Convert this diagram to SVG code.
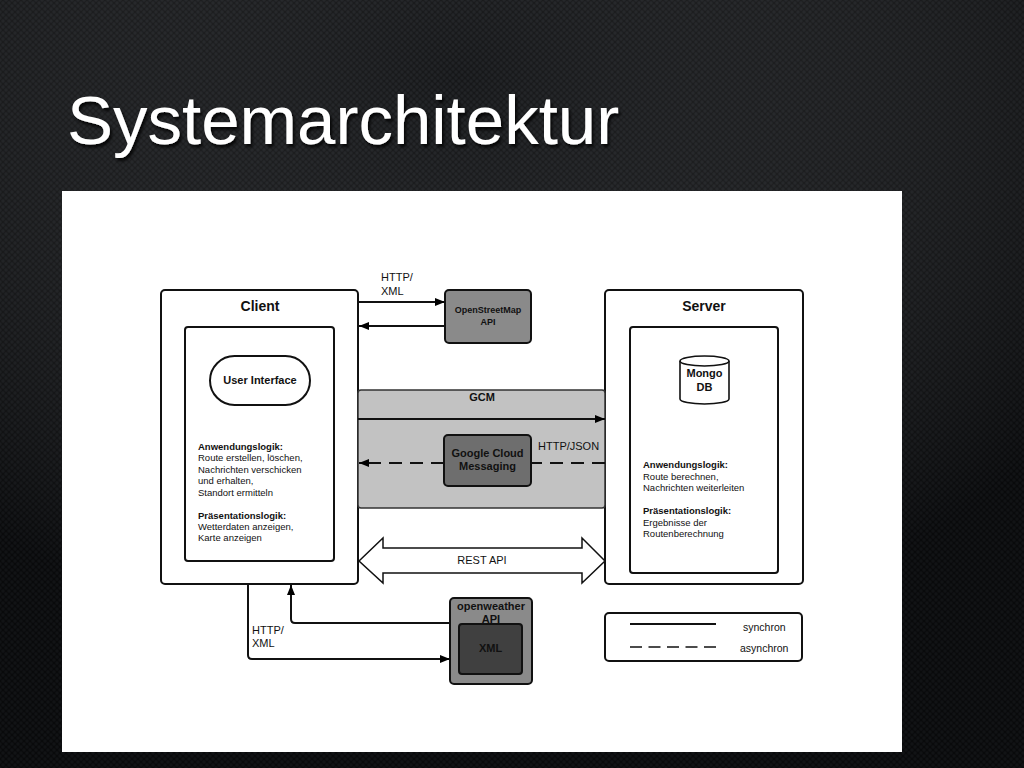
<svg xmlns="http://www.w3.org/2000/svg" width="1024" height="768" viewBox="0 0 1024 768">
<defs>
<pattern id="tex" width="6" height="6" patternUnits="userSpaceOnUse">
<rect width="6" height="6" fill="#0c0d0f"/>
<circle cx="3" cy="3" r="1.7" fill="#17191c"/>
<circle cx="0" cy="0" r="1.7" fill="#17191c"/>
<circle cx="6" cy="0" r="1.7" fill="#17191c"/>
<circle cx="0" cy="6" r="1.7" fill="#17191c"/>
<circle cx="6" cy="6" r="1.7" fill="#17191c"/>
</pattern>
<radialGradient id="glow" cx="0.45" cy="0.1" r="0.75">
<stop offset="0" stop-color="#ffffff" stop-opacity="0.04"/>
<stop offset="1" stop-color="#000000" stop-opacity="0.25"/>
</radialGradient>
<filter id="sh" x="-5%" y="-20%" width="110%" height="140%">
<feDropShadow dx="2" dy="3" stdDeviation="1.5" flood-color="#000" flood-opacity="0.8"/>
</filter>
<marker id="ah" viewBox="0 0 10 10" refX="10" refY="5" markerWidth="10" markerHeight="10" markerUnits="userSpaceOnUse" orient="auto">
<path d="M0,1 L10,5 L0,9 Z" fill="#000"/>
</marker>
</defs>
<style>
.box{fill:#fff;stroke:#111;stroke-width:2}
.ln{fill:none;stroke:#111;stroke-width:2}
.dash{fill:none;stroke:#111;stroke-width:2;stroke-dasharray:13 8}
.ldash{fill:none;stroke:#111;stroke-width:1.5;stroke-dasharray:12 6.5}
.t{font-family:"Liberation Sans",Arial,sans-serif;fill:#111}
.b{font-weight:bold}
.s10{font-size:9.5px}
.s11{font-size:11px}
</style>
<rect width="1024" height="768" fill="url(#tex)"/>
<rect width="1024" height="768" fill="url(#glow)"/>
<text x="67" y="144" font-family="Liberation Sans,Arial,sans-serif" font-size="69" fill="#ffffff" filter="url(#sh)">Systemarchitektur</text>
<rect x="62" y="191" width="840" height="561" fill="#ffffff"/>

<g id="client">
<rect class="box" x="161" y="290" width="197" height="294" rx="4"/>
<text class="t b" x="260" y="311" font-size="14" text-anchor="middle">Client</text>
<rect class="box" x="185" y="327" width="149" height="234" rx="3"/>
<text class="t s10" x="198" y="450"><tspan class="b">Anwendungslogik:</tspan><tspan x="198" dy="11.4">Route erstellen, löschen,</tspan><tspan x="198" dy="11.4">Nachrichten verschicken</tspan><tspan x="198" dy="11.4">und erhalten,</tspan><tspan x="198" dy="11.4">Standort ermitteln</tspan><tspan x="198" dy="23" class="b">Präsentationslogik:</tspan><tspan x="198" dy="11.4">Wetterdaten anzeigen,</tspan><tspan x="198" dy="11.4">Karte anzeigen</tspan></text>
</g>
<g id="user-interface">
<rect class="box" x="210" y="356" width="100" height="49" rx="24.5"/>
<text class="t b s11" x="260" y="384" text-anchor="middle">User Interface</text>
</g>

<g id="server">
<rect class="box" x="605" y="290" width="198" height="294" rx="4"/>
<text class="t b" x="704" y="311" font-size="14" text-anchor="middle">Server</text>
<rect class="box" x="630" y="327" width="148" height="246" rx="3"/>
<text class="t s10" x="643" y="468"><tspan class="b">Anwendungslogik:</tspan><tspan x="643" dy="11.6">Route berechnen,</tspan><tspan x="643" dy="11.6">Nachrichten weiterleiten</tspan><tspan x="643" dy="23" class="b">Präsentationslogik:</tspan><tspan x="643" dy="11.6">Ergebnisse der</tspan><tspan x="643" dy="11.6">Routenberechnung</tspan></text>
</g>
<g id="mongodb">
<path d="M680,361 L680,399 A24.5,5 0 0 0 729,399 L729,361" fill="#fff" stroke="#111" stroke-width="1.6"/>
<ellipse cx="704.5" cy="361" rx="24.5" ry="5" fill="#fff" stroke="#111" stroke-width="1.6"/>
<text class="t b s11" x="704.5" y="377" text-anchor="middle">Mongo</text>
<text class="t b s11" x="704.5" y="391" text-anchor="middle">DB</text>
</g>

<g id="gcm">
<rect x="358" y="390" width="247" height="118" rx="3" fill="#c2c2c2" stroke="#333" stroke-width="1.5"/>
<text class="t b s11" x="482" y="401" text-anchor="middle">GCM</text>
</g>

<g id="openstreetmap">
<rect x="445" y="290" width="86" height="53" rx="4" fill="#8a8a8a" stroke="#111" stroke-width="2"/>
<text class="t b" font-size="9" x="488" y="313" text-anchor="middle">OpenStreetMap</text>
<text class="t b" font-size="9" x="488" y="325" text-anchor="middle">API</text>
</g>

<g id="google-cloud-messaging">
<rect x="444" y="435" width="87" height="51" rx="4" fill="#6e6e6e" stroke="#111" stroke-width="2"/>
<text class="t b s11" x="487.5" y="457" text-anchor="middle">Google Cloud</text>
<text class="t b s11" x="487.5" y="470" text-anchor="middle">Messaging</text>
</g>

<g id="openweather">
<rect x="450" y="598" width="82" height="86" rx="4" fill="#8a8a8a" stroke="#111" stroke-width="2"/>
<text class="t b s11" x="491" y="610" text-anchor="middle">openweather</text>
<text class="t b s11" x="491" y="623" text-anchor="middle">API</text>
<rect x="459" y="624" width="63" height="50" rx="3" fill="#404040" stroke="#111" stroke-width="2"/>
<text class="t b s11" x="490.5" y="652" text-anchor="middle">XML</text>
</g>

<g id="rest-api">
<path d="M359,561 L383,538 L383,548 L582,548 L582,538 L605,561 L582,583 L582,573 L383,573 L383,583 Z" fill="#fff" stroke="#111" stroke-width="1.5"/>
<text class="t s11" x="482" y="564" text-anchor="middle">REST API</text>
</g>

<g id="legend">
<rect class="box" x="605" y="613" width="197" height="48" rx="4"/>
<line class="ln" x1="630" y1="624" x2="716" y2="624" stroke-width="1.5"/>
<line class="ldash" x1="630" y1="647" x2="716" y2="647"/>
<text class="t" font-size="10.5" x="743" y="631">synchron</text>
<text class="t" font-size="10.5" x="740" y="652">asynchron</text>
</g>

<g id="connectors">
<line class="ln" x1="358" y1="302" x2="445" y2="302" marker-end="url(#ah)"/>
<line class="ln" x1="445" y1="326" x2="359" y2="326" marker-end="url(#ah)"/>
<line class="ln" x1="358" y1="419" x2="605" y2="419" marker-end="url(#ah)"/>
<line class="dash" x1="605" y1="463" x2="531" y2="463"/>
<line class="dash" x1="444" y1="463" x2="372" y2="463"/>
<line class="ln" x1="372" y1="463" x2="359" y2="463" marker-end="url(#ah)"/>
<path class="ln" d="M248,584 L248,655 Q248,659 252,659 L450,659" marker-end="url(#ah)"/>
<path class="ln" d="M450,623 L295,623 Q291,623 291,619 L291,585" marker-end="url(#ah)"/>
<text class="t s11" x="381" y="281">HTTP/</text>
<text class="t s11" x="381" y="295">XML</text>
<text class="t s11" x="538" y="450">HTTP/JSON</text>
<text class="t s11" x="252" y="634">HTTP/</text>
<text class="t s11" x="252" y="647">XML</text>
</g>
</svg>
